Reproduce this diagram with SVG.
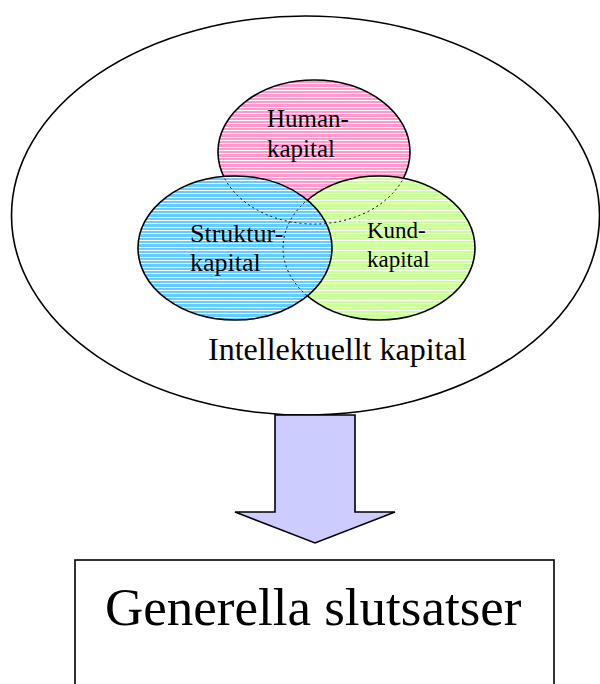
<svg xmlns="http://www.w3.org/2000/svg" width="600" height="684" viewBox="0 0 600 684">
  <style>
    text { font-family: "Liberation Serif", "Times New Roman", serif; fill: #000; }
    .outline { stroke: #000; stroke-width: 1.6; }
    .hidden { fill: none; stroke: #000; stroke-width: 1; stroke-dasharray: 2 3; }
  </style>
  <defs>
    <pattern id="hatchPink" patternUnits="userSpaceOnUse" width="10" height="10">
      <rect width="10" height="10" fill="#FF99CC"/>
      <rect y="0" width="10" height="1" fill="#FFFFFF"/>
      <rect y="3" width="10" height="1" fill="#FFFFFF"/>
      <rect y="7" width="10" height="1" fill="#FFFFFF"/>
    </pattern>
    <pattern id="hatchBlue" patternUnits="userSpaceOnUse" width="10" height="10">
      <rect width="10" height="10" fill="#66CCFF"/>
      <rect y="0" width="10" height="1" fill="#FFFFFF"/>
      <rect y="3" width="10" height="1" fill="#FFFFFF"/>
      <rect y="7" width="10" height="1" fill="#FFFFFF"/>
    </pattern>
    <pattern id="hatchGreen" patternUnits="userSpaceOnUse" width="10" height="10">
      <rect width="10" height="10" fill="#CCFF99"/>
      <rect y="0" width="10" height="1" fill="#FFFFFF"/>
      <rect y="3" width="10" height="1" fill="#FFFFFF"/>
      <rect y="7" width="10" height="1" fill="#FFFFFF"/>
    </pattern>
    <clipPath id="clipBG">
      <ellipse cx="235" cy="248" rx="97" ry="72"/>
      <ellipse cx="379" cy="248" rx="96" ry="72"/>
    </clipPath>
    <clipPath id="clipB">
      <ellipse cx="235" cy="248" rx="97" ry="72"/>
    </clipPath>
  </defs>

  <g id="intellektuellt">
    <ellipse cx="305.5" cy="215.5" rx="294" ry="199.5" fill="#FFFFFF" stroke="#000" stroke-width="1.6"/>
    <text x="208" y="360" font-size="32" font-family="Liberation Serif, Times New Roman, serif">Intellektuellt kapital</text>
  </g>

  <g id="human">
    <ellipse cx="314" cy="152" rx="96" ry="72" fill="url(#hatchPink)" class="outline"/>
  </g>

  <g id="kund">
    <ellipse cx="379" cy="248" rx="96" ry="72" fill="url(#hatchGreen)" class="outline"/>
  </g>

  <g id="struktur">
    <ellipse cx="235" cy="248" rx="97" ry="72" fill="url(#hatchBlue)" class="outline"/>
  </g>

  <g id="hidden-edges">
    <ellipse cx="314" cy="152" rx="96" ry="72" class="hidden" clip-path="url(#clipBG)"/>
    <ellipse cx="379" cy="248" rx="96" ry="72" class="hidden" clip-path="url(#clipB)"/>
  </g>

  <g id="labels">
    <text x="267" y="127" font-size="25" font-family="Liberation Serif, Times New Roman, serif">Human-</text>
    <text x="267" y="157" font-size="25" font-family="Liberation Serif, Times New Roman, serif">kapital</text>
    <text x="190" y="242" font-size="26" font-family="Liberation Serif, Times New Roman, serif">Struktur-</text>
    <text x="190" y="271" font-size="26" font-family="Liberation Serif, Times New Roman, serif">kapital</text>
    <text x="367" y="238" font-size="23" font-family="Liberation Serif, Times New Roman, serif">Kund-</text>
    <text x="367" y="267" font-size="23" font-family="Liberation Serif, Times New Roman, serif">kapital</text>
  </g>

  <g id="connectors">
    <path d="M275,415 L355,415 L355,512 L395,512 L315,543 L235,512 L275,512 Z" fill="#CCCCFF" stroke="#000" stroke-width="1.6" stroke-linejoin="miter"/>
  </g>

  <g id="slutsatser">
    <rect x="75" y="560" width="479" height="140" fill="#FFFFFF" stroke="#000" stroke-width="1.6"/>
    <text x="105" y="625" font-size="53" font-family="Liberation Serif, Times New Roman, serif">Generella slutsatser</text>
  </g>
</svg>
